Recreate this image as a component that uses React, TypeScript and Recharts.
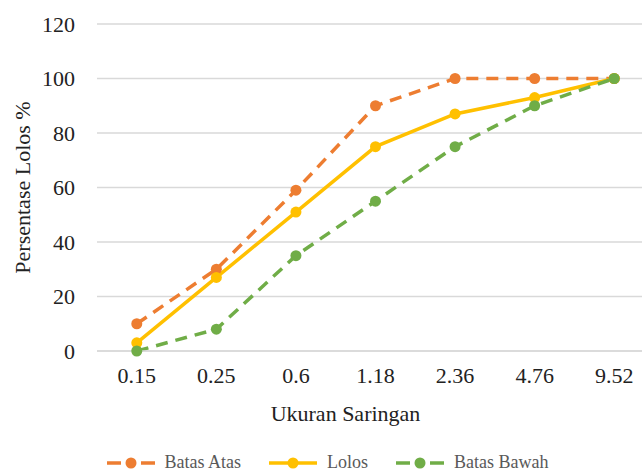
import React from 'react';
import { LineChart, Line, XAxis, YAxis, CartesianGrid, Legend } from 'recharts';

const sieveSizes = ['0.15', '0.25', '0.6', '1.18', '2.36', '4.76', '9.52'];
const batasAtas = [10, 30, 59, 90, 100, 100, 100];
const lolos = [3, 27, 51, 75, 87, 93, 100];
const batasBawah = [0, 8, 35, 55, 75, 90, 100];
const yTicks = [0, 20, 40, 60, 80, 100, 120];

const series = [
  { key: 'atas', name: 'Batas Atas', color: '#ED7D31', dash: '12 8' },
  { key: 'lolos', name: 'Lolos', color: '#FFC000', dash: undefined },
  { key: 'bawah', name: 'Batas Bawah', color: '#70AD47', dash: '12 8' },
];

const data = sieveSizes.map((size, i) => ({
  size,
  atas: batasAtas[i],
  lolos: lolos[i],
  bawah: batasBawah[i],
}));

const font = '"Liberation Serif", "Times New Roman", serif';

function LegendIcon({ color, dashed }: { color: string; dashed: boolean }) {
  return (
    <svg width={50} height={14} style={{ display: 'block' }}>
      {dashed ? (
        <>
          <line x1={1} y1={7} x2={15} y2={7} stroke={color} strokeWidth={3.5} />
          <line x1={35} y1={7} x2={49} y2={7} stroke={color} strokeWidth={3.5} />
        </>
      ) : (
        <line x1={1} y1={7} x2={49} y2={7} stroke={color} strokeWidth={3.5} />
      )}
      <circle cx={25} cy={7} r={5.5} fill={color} />
    </svg>
  );
}

function renderLegend() {
  return (
    <div
      style={{
        position: 'relative',
        top: 16,
        display: 'flex',
        justifyContent: 'center',
        alignItems: 'center',
        gap: 27,
        fontFamily: font,
        fontSize: 18,
        color: '#595959',
      }}
    >
      {series.map((s) => (
        <div key={s.key} style={{ display: 'flex', alignItems: 'center', gap: 9 }}>
          <LegendIcon color={s.color} dashed={!!s.dash} />
          <span>{s.name}</span>
        </div>
      ))}
    </div>
  );
}

export default function App() {
  return (
    <div style={{ position: 'absolute', left: 0, top: 0, width: 642, height: 476, overflow: 'hidden', background: '#fff' }}>
      <LineChart width={680} height={476} data={data} margin={{ top: 24, right: 26, left: 0, bottom: 0 }}>
        <CartesianGrid vertical={false} stroke="#d9d9d9" strokeWidth={1.3} />
        <XAxis
          dataKey="size"
          scale="band"
          height={85}
          tickLine={false}
          tickSize={0}
          tickMargin={16}
          axisLine={{ stroke: '#d9d9d9', strokeWidth: 1.3 }}
          tick={{ fill: '#222', fontSize: 22, fontFamily: font }}
          label={{ value: 'Ukuran Saringan', position: 'insideBottom', offset: 15, dx: -30, fill: '#222', fontSize: 22, fontFamily: font }}
        />
        <YAxis
          width={97}
          domain={[0, 120]}
          ticks={yTicks}
          axisLine={false}
          tickLine={false}
          tickSize={0}
          tickMargin={22}
          tick={{ fill: '#222', fontSize: 22, fontFamily: font }}
          label={{ value: 'Persentase Lolos %', angle: -90, position: 'center', dx: -26, fill: '#222', fontSize: 22, fontFamily: font }}
        />
        <Legend verticalAlign="bottom" content={renderLegend} wrapperStyle={{ height: 40 }} />
        {series.map((s) => (
          <Line
            key={s.key}
            dataKey={s.key}
            name={s.name}
            stroke={s.color}
            strokeWidth={3.5}
            strokeDasharray={s.dash}
            dot={{ r: 5.5, fill: s.color, stroke: s.color, strokeWidth: 0 }}
            activeDot={false}
            isAnimationActive={false}
          />
        ))}
      </LineChart>
    </div>
  );
}
